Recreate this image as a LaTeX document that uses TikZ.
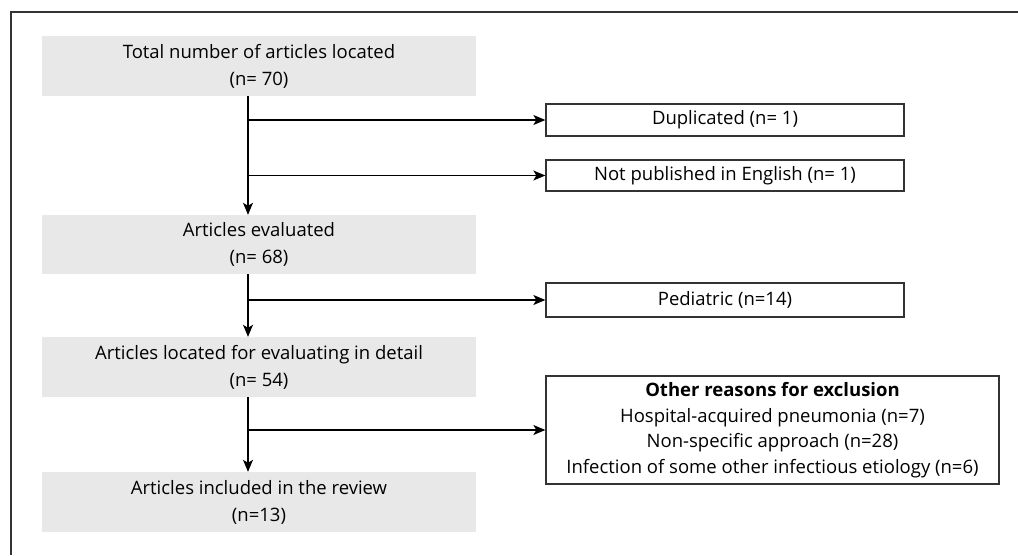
\documentclass[tikz,border=0pt]{standalone}
\usepackage{fontspec}
\setmainfont{Open Sans}
\usetikzlibrary{arrows.meta}
\definecolor{boxgray}{HTML}{E8E8E8}
\definecolor{framecol}{HTML}{333333}
\tikzset{
  graybox/.style={fill=boxgray, draw=none, inner sep=0pt, align=center, font=\fontsize{18.5}{27}\selectfont},
  exbox/.style={draw=framecol, line width=1.3pt, fill=white, inner sep=0pt, align=center, font=\fontsize{18.5}{25.7}\selectfont},
  arr/.style={line width=1.3pt, -{Stealth[length=12pt,width=10pt,inset=3pt]}},
  ln/.style={line width=1.3pt}
}
\begin{document}
\begin{tikzpicture}[x=1pt,y=-1pt]
\useasboundingbox (0,0) rectangle (1018,555);
% outer frame
\draw[framecol, line width=2.6pt] (1018,12) -- (11,12) -- (11,555);
% main boxes
\node[graybox, minimum width=434pt, minimum height=60pt] (b1) at (259,66) {Total number of articles located\\(n= 70)};
\node[graybox, minimum width=434pt, minimum height=59pt] (b2) at (259,244.5) {Articles evaluated\\(n= 68)};
\node[graybox, minimum width=434pt, minimum height=60pt] (b3) at (259,367) {Articles located for evaluating in detail\\(n= 54)};
\node[graybox, minimum width=434pt, minimum height=60pt] (b4) at (259,502) {Articles included in the review\\(n=13)};
% exclusion boxes
\node[exbox, minimum width=358pt, minimum height=32pt] (e1) at (725,120) {Duplicated (n= 1)};
\node[exbox, minimum width=358pt, minimum height=31pt] (e2) at (725,175.5) {Not published in English (n= 1)};
\node[exbox, minimum width=358pt, minimum height=34pt] (e3) at (725,300) {Pediatric (n=14)};
\node[exbox, minimum width=453pt, minimum height=108pt] (e4) at (772.5,430) {\textbf{Other reasons for exclusion}\\Hospital-acquired pneumonia (n=7)\\Non-specific approach (n=28)\\Infection of some other infectious etiology (n=6)};
% spine
\coordinate (sx) at (248,0);
\draw[arr] (b1.south -| sx) -- (b2.north -| sx);
\draw[arr] (b2.south -| sx) -- (b3.north -| sx);
\draw[arr] (b3.south -| sx) -- (b4.north -| sx);
% branches
\draw[arr] (sx |- e1.west) -- (e1.west);
\draw[arr] (sx |- e2.west) -- (e2.west);
\draw[arr] (sx |- e3.west) -- (e3.west);
\draw[arr] (sx |- e4.west) -- (e4.west);
\end{tikzpicture}
\end{document}
